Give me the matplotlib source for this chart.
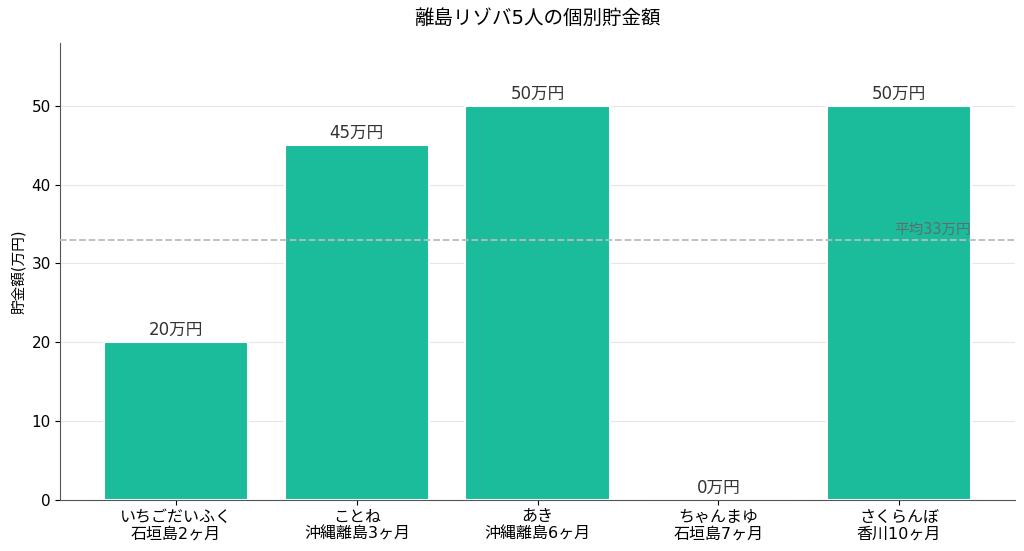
import matplotlib
matplotlib.use("Agg")
import matplotlib.pyplot as plt

plt.rcParams['font.family'] = ['DejaVu Sans', 'Noto Sans CJK JP']

# data
names = ["いちごだいふく\n石垣島2ヶ月", "ことね\n沖縄離島3ヶ月", "あき\n沖縄離島6ヶ月",
         "ちゃんまゆ\n石垣島7ヶ月", "さくらんぼ\n香川10ヶ月"]
savings = [20, 45, 50, 0, 50]
average = 33

fig, ax = plt.subplots(figsize=(10.24, 5.51), dpi=100)

x = range(len(names))
bars = ax.bar(x, savings, width=0.8, color="#1abc9c", edgecolor="white", linewidth=1.5, zorder=2)
for xi, v in zip(x, savings):
    ax.text(xi, v + 0.4, f"{v}万円", ha="center", va="bottom", fontsize=12, color="#333333", zorder=4)

ax.axhline(average, color="#bbbbbb", linestyle="--", linewidth=1.3, zorder=3)
ax.text(4.4, average + 0.4, f"平均{average}万円", ha="right", va="bottom",
        fontsize=10.5, color="#666666", alpha=0.9, zorder=4)

ax.set_xticks(list(x))
ax.set_xticklabels(names, fontsize=11.5)
ax.set_ylim(0, 58)
ax.set_yticks([0, 10, 20, 30, 40, 50])
ax.tick_params(axis="y", labelsize=11)
ax.set_ylabel("貯金額(万円)", fontsize=10.5)
ax.set_title("離島リゾバ5人の個別貯金額", fontsize=14, pad=14)
ax.grid(axis="y", color="#e6e6e6", linewidth=0.8, zorder=0)
ax.set_axisbelow(True)
for s in ["top", "right"]:
    ax.spines[s].set_visible(False)
for s in ["left", "bottom"]:
    ax.spines[s].set_color("#555555")

plt.subplots_adjust(left=0.059, right=0.991, top=0.922, bottom=0.093)
plt.savefig("out.png", dpi=100)
